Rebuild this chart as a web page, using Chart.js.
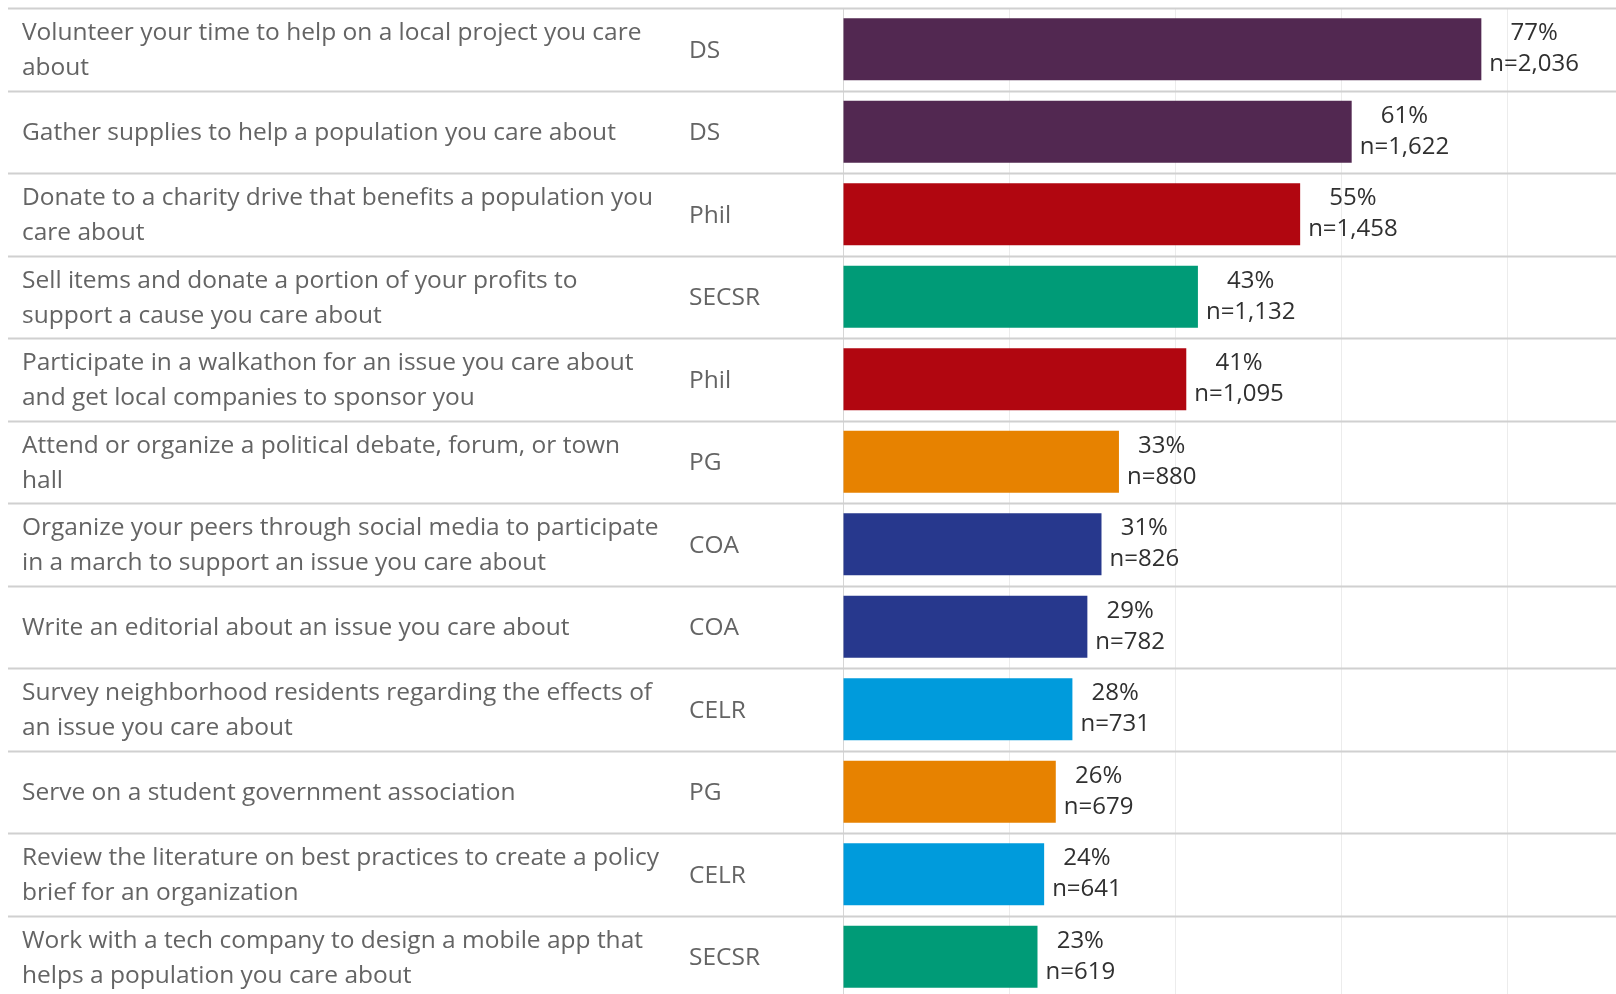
<!DOCTYPE html>
<html>
<head>
<meta charset="utf-8">
<script src="https://cdn.jsdelivr.net/npm/chart.js@4.4.1/dist/chart.umd.min.js"></script>
<style>
  html, body { margin: 0; padding: 0; background: #fff; overflow: hidden; }
  #wrap { width: 1616px; height: 998px; position: relative; }
</style>
</head>
<body>
<div id="wrap"><canvas id="c"></canvas></div>
<script>
// activity text, already wrapped the way the source table shows it
const activities = [
  ['Volunteer your time to help on a local project you care', 'about'],
  ['Gather supplies to help a population you care about'],
  ['Donate to a charity drive that benefits a population you', 'care about'],
  ['Sell items and donate a portion of your profits to', 'support a cause you care about'],
  ['Participate in a walkathon for an issue you care about', 'and get local companies to sponsor you'],
  ['Attend or organize a political debate, forum, or town', 'hall'],
  ['Organize your peers through social media to participate', 'in a march to support an issue you care about'],
  ['Write an editorial about an issue you care about'],
  ['Survey neighborhood residents regarding the effects of', 'an issue you care about'],
  ['Serve on a student government association'],
  ['Review the literature on best practices to create a policy', 'brief for an organization'],
  ['Work with a tech company to design a mobile app that', 'helps a population you care about']
];
const codes = ['DS', 'DS', 'Phil', 'SECSR', 'Phil', 'PG', 'COA', 'COA', 'CELR', 'PG', 'CELR', 'SECSR'];
// bar lengths (unrounded share, %)
const shares = [76.8, 61.2, 55.0, 42.7, 41.3, 33.2, 31.1, 29.4, 27.6, 25.6, 24.2, 23.4];
// the rounded percentages printed next to each bar
const pctLabels = ['77%', '61%', '55%', '43%', '41%', '33%', '31%', '29%', '28%', '26%', '24%', '23%'];
const counts = [2036, 1622, 1458, 1132, 1095, 880, 826, 782, 731, 679, 641, 619];

const codeColors = {
  DS: '#522851',
  Phil: '#b10610',
  SECSR: '#009b77',
  PG: '#e78200',
  COA: '#27388d',
  CELR: '#009bdc'
};

const FONT = '"Open Sans", "Noto Sans", sans-serif';

// draws the left table (text + code), row separators and value labels
const tablePlugin = {
  id: 'tablePlugin',
  beforeDatasetsDraw(chart) {
    const { ctx, chartArea } = chart;
    const y = chart.scales.y;
    const rowH = (chartArea.bottom - chartArea.top) / activities.length;
    ctx.save();
    ctx.strokeStyle = '#d0d0d0';
    ctx.lineWidth = 2;
    activities.forEach((a, i) => {
      const top = Math.round(y.getPixelForValue(i) - rowH / 2) + 0.5;
      ctx.beginPath();
      ctx.moveTo(8, top);
      ctx.lineTo(chart.width, top);
      ctx.stroke();
    });
    ctx.restore();
  },
  afterDatasetsDraw(chart) {
    const { ctx } = chart;
    const y = chart.scales.y;
    const bars = chart.getDatasetMeta(0).data;
    ctx.save();
    ctx.textBaseline = 'middle';
    activities.forEach((lines, i) => {
      const cy = y.getPixelForValue(i);
      // activity text
      ctx.font = '24.5px ' + FONT;
      ctx.fillStyle = '#646464';
      ctx.textAlign = 'left';
      const lh = 35;
      lines.forEach((ln, k) => {
        ctx.fillText(ln, 22, cy + 1.5 - (lines.length - 1) * lh / 2 + k * lh);
      });
      ctx.fillText(codes[i], 689, cy + 1.5);

      // value labels
      ctx.font = '24px ' + FONT;
      ctx.fillStyle = '#303030';
      const t1 = pctLabels[i];
      const t2 = 'n=' + counts[i].toLocaleString('en-US');
      const w = Math.max(ctx.measureText(t1).width, ctx.measureText(t2).width);
      const cx = bars[i].x + 8 + w / 2;
      ctx.textAlign = 'center';
      ctx.fillText(t1, cx, cy - 16);
      ctx.fillText(t2, cx, cy + 15);
    });
    ctx.restore();
  }
};

new Chart(document.getElementById('c'), {
  type: 'bar',
  data: {
    labels: activities,
    datasets: [{
      data: shares,
      backgroundColor: codes.map(c => codeColors[c]),
      borderWidth: 0,
      barPercentage: 0.75,
      categoryPercentage: 1
    }]
  },
  options: {
    indexAxis: 'y',
    responsive: true,
    maintainAspectRatio: false,
    animation: false,
    layout: { padding: { left: 843, top: 8, right: 0, bottom: 0 } },
    plugins: { legend: { display: false }, tooltip: { enabled: false } },
    scales: {
      x: {
        min: 0,
        max: 93,
        ticks: { display: false, stepSize: 20 },
        border: { display: false },
        grid: {
          drawTicks: false,
          color: ctx => ctx.tick && ctx.tick.value === 0 ? '#d6d6d6' : '#ececec',
          lineWidth: 1
        }
      },
      y: { display: false }
    }
  },
  plugins: [tablePlugin]
});
</script>
</body>
</html>
